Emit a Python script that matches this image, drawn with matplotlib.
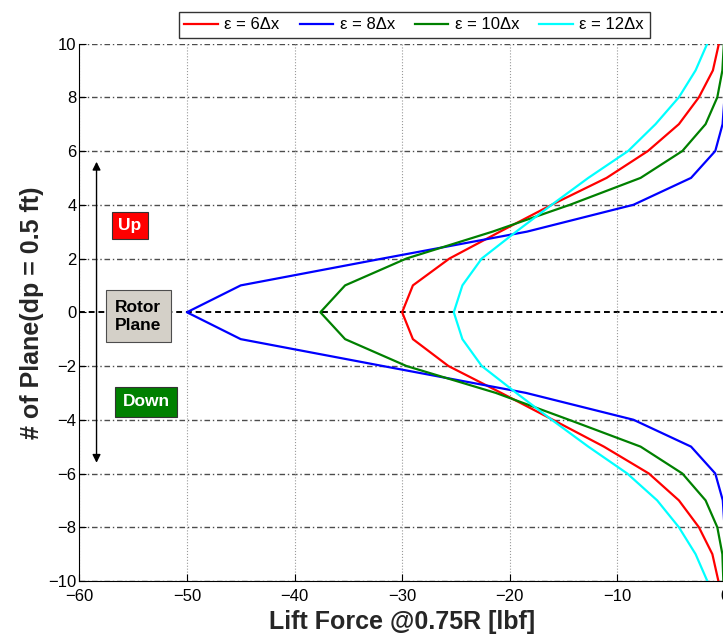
import matplotlib.pyplot as plt
import numpy as np

plt.rcParams['font.family'] = ['Liberation Sans', 'DejaVu Sans']

# Planes (dp = 0.5 ft)
planes = np.arange(-10, 11)

# Lift force @0.75R [lbf] for each smoothing width
lift_6dx = [-0.61, -1.17, -2.42, -4.28, -7.07, -11.25, -16.0, -20.8, -25.7, -29.0, -30.0,
            -29.0, -25.6, -20.9, -16.1, -11.0, -7.16, -4.28, -2.42, -1.12, -0.56]
lift_8dx = [0.0, -0.01, -0.04, -0.2, -0.9, -3.15, -8.5, -18.5, -31.8, -45.0, -50.0,
            -45.0, -31.8, -18.4, -8.5, -3.15, -0.9, -0.22, -0.04, -0.01, 0.0]
lift_10dx = [-0.15, -0.24, -0.71, -1.8, -3.96, -7.84, -14.5, -21.3, -29.6, -35.3, -37.6,
             -35.3, -29.6, -21.6, -14.4, -7.84, -3.96, -1.8, -0.71, -0.24, -0.1]
lift_12dx = [-1.64, -2.73, -4.28, -6.3, -9.08, -12.7, -16.1, -19.4, -22.6, -24.4, -25.2,
             -24.4, -22.6, -19.4, -16.1, -12.7, -9.0, -6.45, -4.28, -2.73, -1.64]

series_labels = ['ε = 6Δx', 'ε = 8Δx', 'ε = 10Δx', 'ε = 12Δx']
series_colors = ['#ff0000', '#0000ff', '#008000', '#00ffff']

x_ticks = np.arange(-60, 1, 10)
y_ticks = np.arange(-10, 11, 2)

fig = plt.figure(figsize=(7.23, 6.41), dpi=100)
# the right edge of the axes sits just outside the picture, as in the original
ax = fig.add_axes([0.1097, 0.0936, 0.893, 0.8385])

# reference lines at each y tick
for yv in y_ticks:
    if yv == 0:
        ax.axhline(yv, color='k', lw=1.4, linestyle=(0, (3, 2)), zorder=1)
    else:
        ax.axhline(yv, color='0.3', lw=1.0, linestyle=(0, (4, 2, 1, 2)), zorder=1)
ax.grid(axis='x', linestyle=':', color='0.6', lw=0.8)

for vals, lab, col in zip([lift_6dx, lift_8dx, lift_10dx, lift_12dx], series_labels, series_colors):
    ax.plot(vals, planes, color=col, lw=1.6, label=lab, zorder=3)

ax.set_xlim(-60, 0)
ax.set_ylim(-10, 10)
ax.set_xticks(x_ticks)
ax.set_yticks(y_ticks)
ax.tick_params(direction='in', length=5, labelsize=12)
ax.tick_params(axis='x', pad=6)
ax.tick_params(axis='y', pad=2)
ax.spines['top'].set_visible(False)
ax.spines['right'].set_visible(False)

ax.set_xlabel('Lift Force @0.75R [lbf]', fontsize=18, fontweight='bold', color='0.15', labelpad=4)
ax.set_ylabel('# of Plane(dp = 0.5 ft)', fontsize=18, fontweight='bold', color='0.15', labelpad=3)

# up / down arrow and the tags
ax.annotate('', xy=(-58.4, 5.6), xytext=(-58.4, -5.6),
            arrowprops=dict(arrowstyle='<|-|>', color='k', lw=1, mutation_scale=12,
                            shrinkA=0, shrinkB=0))
ax.text(-55.3, 3.23, 'Up', color='white', fontsize=12.5, fontweight='bold',
        ha='center', va='center',
        bbox=dict(boxstyle='square,pad=0.35', fc='#ff0000', ec='0.2', lw=0.8))
ax.text(-54.5, -0.15, 'Rotor\nPlane', color='k', fontsize=12.5, fontweight='bold',
        ha='center', va='center', multialignment='left', linespacing=1.25,
        bbox=dict(boxstyle='square,pad=0.55', fc='#d4d0c8', ec='0.3', lw=0.8))
ax.text(-53.8, -3.33, 'Down', color='white', fontsize=12.5, fontweight='bold',
        ha='center', va='center',
        bbox=dict(boxstyle='square,pad=0.42', fc='#008000', ec='0.2', lw=0.8))

fig.legend(loc='upper center', bbox_to_anchor=(0.573, 0.995), ncol=4, fontsize=12,
           frameon=True, fancybox=False, edgecolor='k', handlelength=2.0,
           columnspacing=1.2, handletextpad=0.4, borderpad=0.35)

plt.savefig('out.png', dpi=100)
